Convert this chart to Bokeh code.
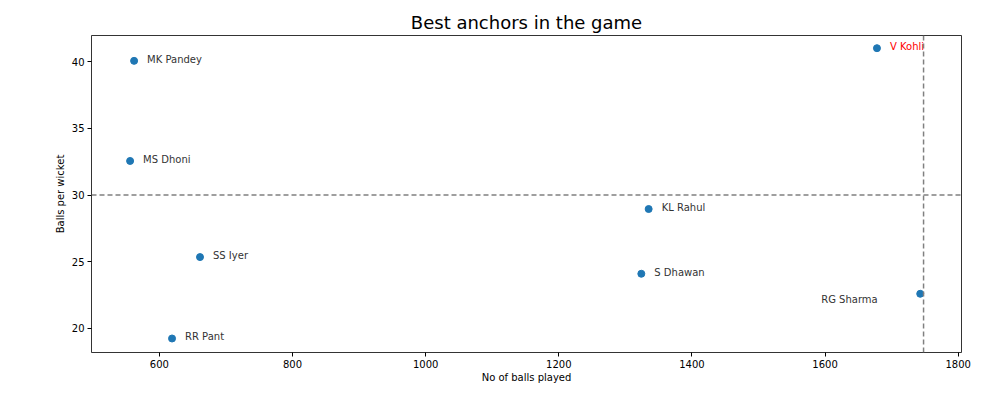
from bokeh.plotting import figure
from bokeh.models import ColumnDataSource, Span, Range1d, FixedTicker, LabelSet
from bokeh.core.properties import value
from bokeh.embed import file_html
from bokeh.resources import INLINE

players = ["MK Pandey", "MS Dhoni", "SS Iyer", "RR Pant", "KL Rahul", "S Dhawan", "RG Sharma", "V Kohli"]
balls = [562, 556, 661, 619, 1335, 1324, 1743, 1678]
bpw = [40.05, 32.55, 25.35, 19.25, 28.95, 24.1, 22.6, 41.0]
colors = ["#333333"] * 7 + ["red"]
x_off = [13, 13, 13, 13, 13, 13, -99, 13]
y_off = [-4, -4, -4, -4, -4, -4, -11, -4]
h_line = 30.0
v_line = 1748
xticks = [600, 800, 1000, 1200, 1400, 1600, 1800]
yticks = [20, 25, 30, 35, 40]

FONT = "DejaVu Sans"

p = figure(width=984, height=390, output_backend="svg", toolbar_location=None,
           x_range=Range1d(498, 1805), y_range=Range1d(18.2, 41.95),
           title="Best anchors in the game")
p.min_border_left = 91
p.min_border_right = 23
p.min_border_top = 35
p.min_border_bottom = 38

p.title.align = "center"
p.title.text_font = FONT
p.title.text_font_size = "18px"
p.title.text_font_style = "normal"
p.title.text_color = "#000000"
p.title.offset = 0
p.title.standoff = 5

p.xgrid.visible = False
p.ygrid.visible = False
p.outline_line_color = "#000000"
p.outline_line_width = 0.8

for ax in (p.xaxis[0], p.yaxis[0]):
    ax.axis_line_color = None
    ax.minor_tick_line_color = None
    ax.major_tick_out = 4
    ax.major_tick_in = 0
    ax.major_tick_line_color = "#000000"
    ax.major_label_text_font = FONT
    ax.major_label_text_font_size = "10px"
    ax.major_label_text_color = "#000000"
    ax.axis_label_text_font = FONT
    ax.axis_label_text_font_size = "10px"
    ax.axis_label_text_font_style = "normal"
    ax.axis_label_text_color = "#000000"

p.xaxis.ticker = FixedTicker(ticks=xticks)
p.yaxis.ticker = FixedTicker(ticks=yticks)
p.xaxis.axis_label = "No of balls played"
p.yaxis.axis_label = "Balls per wicket"
p.xaxis.axis_label_standoff = 1
p.yaxis.axis_label_standoff = 3
p.xaxis.major_label_standoff = 3
p.yaxis.major_label_standoff = 3

src = ColumnDataSource(dict(x=balls, y=bpw, name=players, color=colors, xo=x_off, yo=y_off))
p.scatter("x", "y", source=src, size=7, fill_color="#1f77b4", line_color="#1f77b4")

labels = LabelSet(x="x", y="y", text="name", source=src, x_offset="xo", y_offset="yo",
                  text_color="color", text_font=value(FONT), text_font_size="10px")
p.add_layout(labels)

p.add_layout(Span(location=h_line, dimension="width", line_color="gray",
                  line_dash="5 3", line_width=1.5))
p.add_layout(Span(location=v_line, dimension="height", line_color="gray",
                  line_dash="5 3", line_width=1.5))

open("out.html", "w").write(file_html(p, INLINE))
